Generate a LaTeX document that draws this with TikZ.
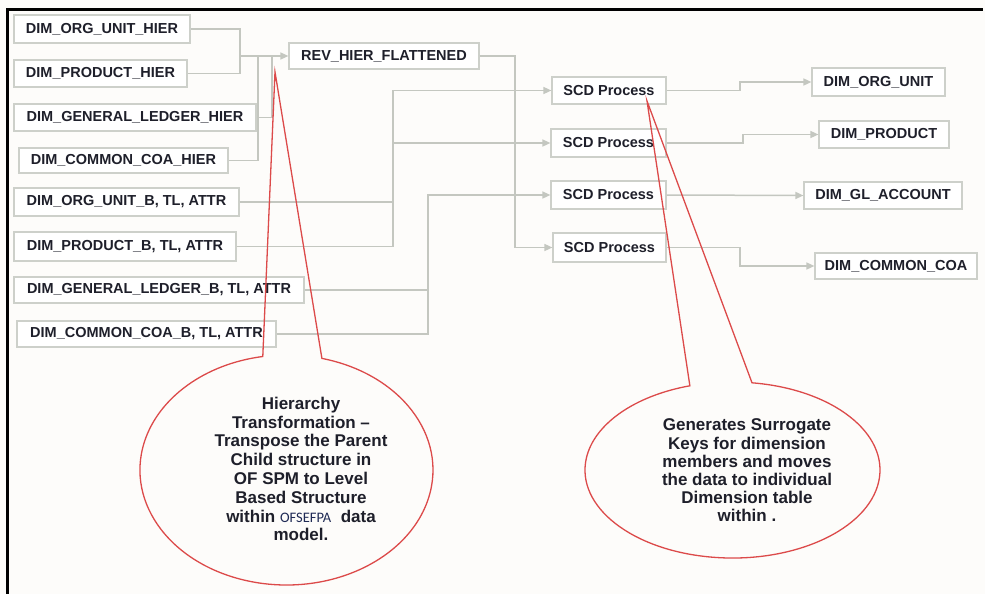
\documentclass[tikz,border=0pt]{standalone}
\usepackage{fontspec}
\setmainfont{Liberation Sans}
\newfontfamily\calfont{Carlito}
\usetikzlibrary{arrows.meta}
\definecolor{bg}{HTML}{FDFCFA}
\definecolor{boxline}{HTML}{CDD0CA}
\definecolor{connline}{HTML}{C4C7C0}
\definecolor{txt}{HTML}{1E1F2A}
\definecolor{callred}{HTML}{DC4A4A}
\definecolor{navy}{HTML}{1F2A55}
\tikzset{
  box/.style={draw=boxline, line width=1.2pt, fill=white, inner sep=0pt,
    font=\fontsize{14.5}{16}\selectfont\bfseries, text=txt},
  conn/.style={draw=connline, line width=1.5pt},
  arr/.style={conn, -{Triangle[length=8pt,width=7pt]}},
  callout/.style={draw=callred, line width=1.3pt, line join=miter},
  calltext/.style={align=center, text=txt, inner sep=0pt,
    font=\fontsize{17}{18.8}\selectfont\bfseries},
}
\begin{document}
\begin{tikzpicture}[x=1pt,y=-1pt]
\useasboundingbox (0,0) rectangle (985,594);
\fill[bg] (0,0) rectangle (985,594);
\draw[black, line width=3pt] (7.5,594) -- (7.5,10) -- (983,10);

% left boxes
\node[box, minimum width=176pt, minimum height=28pt] (h1) at (102,29) {DIM\_ORG\_UNIT\_HIER};
\node[box, minimum width=173pt, minimum height=27pt] (h2) at (100.5,73.5) {DIM\_PRODUCT\_HIER};
\node[box, minimum width=242pt, minimum height=27pt] (h3) at (135,117.5) {DIM\_GENERAL\_LEDGER\_HIER};
\node[box, minimum width=209pt, minimum height=25pt] (h4) at (123.5,160.5) {DIM\_COMMON\_COA\_HIER};
\node[box, minimum width=225pt, minimum height=28pt] (b1) at (126.5,202) {DIM\_ORG\_UNIT\_B, TL, ATTR};
\node[box, minimum width=222pt, minimum height=29pt] (b2) at (125,246.5) {DIM\_PRODUCT\_B, TL, ATTR};
\node[box, minimum width=290pt, minimum height=26pt] (b3) at (159,290) {DIM\_GENERAL\_LEDGER\_B, TL, ATTR};
\node[box, minimum width=259pt, minimum height=26pt] (b4) at (146.5,334) {DIM\_COMMON\_COA\_B, TL, ATTR};

% middle
\node[box, minimum width=190pt, minimum height=26pt] (rev) at (384,56) {REV\_HIER\_FLATTENED};
\node[box, minimum width=114pt, minimum height=27pt] (s1) at (609,90.5) {SCD Process};
\node[box, minimum width=115pt, minimum height=28pt] (s2) at (608.5,143) {SCD Process};
\node[box, minimum width=115pt, minimum height=28pt] (s3) at (608.5,195) {SCD Process};
\node[box, minimum width=113pt, minimum height=29pt] (s4) at (609.5,247.5) {SCD Process};

% right boxes
\node[box, minimum width=133pt, minimum height=28pt] (o1) at (878.5,82) {DIM\_ORG\_UNIT};
\node[box, minimum width=130pt, minimum height=27pt] (o2) at (884,134.5) {DIM\_PRODUCT};
\node[box, minimum width=158pt, minimum height=27pt] (o3) at (883,195.5) {DIM\_GL\_ACCOUNT};
\node[box, minimum width=162pt, minimum height=26pt] (o4) at (896,266) {DIM\_COMMON\_COA};

% junction coordinates
\coordinate (j1) at (240,56);
\coordinate (j2) at (258,56);
\coordinate (j3) at (272,56);
\coordinate (v1) at (393,0);
\coordinate (v2) at (428,0);
\coordinate (v3) at (515,0);
\coordinate (w1) at (740,0);
\coordinate (w2) at (743,0);

% hierarchy connectors
\draw[conn] (h1.east) -| (j1);
\draw[conn] (h2.east) -| (j1);
\draw[conn] (h4.east) -| (j2);
\draw[conn] (h3.east) -| (j3);
\draw[arr] (j1) -- (rev.west);

% to SCD
\draw[arr] (rev.east) -| (v3 |- s4.west) -- (s4.west);
\draw[arr] (b1.east) -| (v1 |- s1.west) -- (s1.west);
\draw[arr] (b2.east) -| (v1 |- s2.west) -- (s2.west);
\draw[arr] (b3.east) -| (v2 |- s3.west) -- (s3.west);
\draw[conn] (b4.east) -| (v2 |- s3.west);

% SCD to dims
\draw[arr] (s1.east) -| (w1 |- o1.west) -- (o1.west);
\draw[arr] (s2.east) -| (w2 |- o2.west) -- (o2.west);
\draw[arr] (s3.east) -- (o3.west);
\draw[arr] (s4.east) -| (w1 |- o4.west) -- (o4.west);

% callout 1
\coordinate (t1) at (275,72);
\draw[callout] (t1) -- (286.5+35.4,470-111.6)
  arc[start angle=284, end angle=620.7, x radius=146.5, y radius=115] -- cycle;
\node[calltext] (c1) at (301,469) {Hierarchy\\Transformation --\\Transpose the Parent\\Child structure in\\OF SPM to Level\\Based Structure\\within {\mdseries\calfont\color{navy}\fontsize{14.5}{18.8}\selectfont OFSEFPA}\ \ data\\model.};

% callout 2
\coordinate (t2) at (647,101);
\draw[callout] (t2) -- (732.5+19.5,470-87.2)
  arc[start angle=277.6, end angle=613.2, x radius=147.5, y radius=88] -- cycle;
\node[calltext, font=\fontsize{17}{18.2}\selectfont\bfseries] (c2) at (747,470.5) {Generates Surrogate\\Keys for dimension\\members and moves\\the data to individual\\Dimension table\\within .};
\end{tikzpicture}
\end{document}
